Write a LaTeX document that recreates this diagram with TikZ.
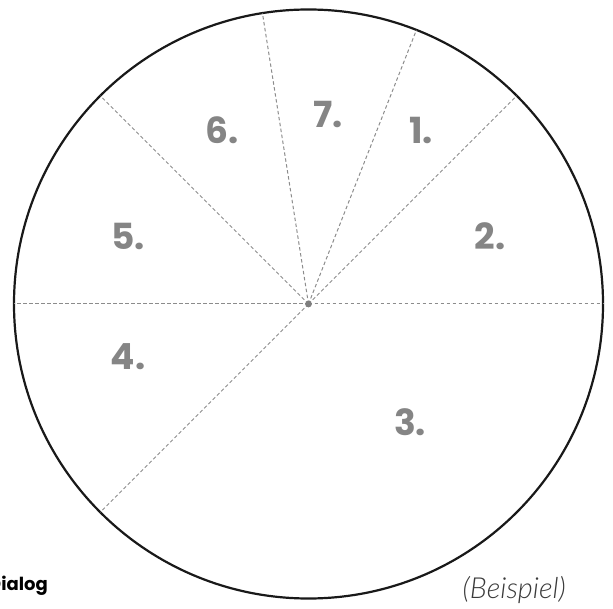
\documentclass[tikz,border=0pt]{standalone}
\usepackage{fontspec}
\setmainfont{Poppins}
\newfontfamily\notefont{Lato Light}
\usepackage{tikz}
\usetikzlibrary{positioning, calc}
\definecolor{labelgray}{HTML}{858585}
\definecolor{linegray}{HTML}{8C8C8C}
\definecolor{notegray}{HTML}{3A3A3A}

\begin{document}
\begin{tikzpicture}[
  x=1pt, y=-1pt,
  rim/.style={draw=black!90, line width=2.2pt},
  divider/.style={draw=linegray, line width=1pt, dash pattern=on 3.5pt off 2.5pt},
  num/.style={font=\fontsize{36}{40}\selectfont\bfseries, text=labelgray, inner sep=0pt},
]
\useasboundingbox (0,0) rectangle (613,609);

% Circle and centre
\coordinate (mid) at (308.5,304);
\draw[rim] (mid) circle[radius=294.5];

% Dividers (angles measured with y pointing down, so negate)
\foreach \ang [count=\i] in {0,45,68.5,99,135,180,225}
  \coordinate (rim\i) at ($(mid)+({cos(\ang)*294.5},{-sin(\ang)*294.5})$);
\foreach \i in {1,...,7}
  \draw[divider] (mid) -- (rim\i);
\fill[linegray!90!black] (mid) circle[radius=3.4];

% Segment numbers
\node[num] (n1) at (421,131) {1.};
\node[num] (n2) at (490,236) {2.};
\node[num] (n3) at (410,422) {3.};
\node[num] (n4) at (128,357) {4.};
\node[num] (n5) at (128,236) {5.};
\node[num] (n6) at (222,130) {6.};
\node[num] (n7) at (328,115) {7.};

% Captions
\node[anchor=base east, font=\fontsize{18}{20}\selectfont\bfseries, inner sep=0pt] (title) at (48,590) {Dialog};
\node[anchor=base east, font=\notefont\itshape\fontsize{29}{32}\selectfont, text=notegray, inner sep=0pt] (note) at (566,598) {(Beispiel)};
\end{tikzpicture}
\end{document}
